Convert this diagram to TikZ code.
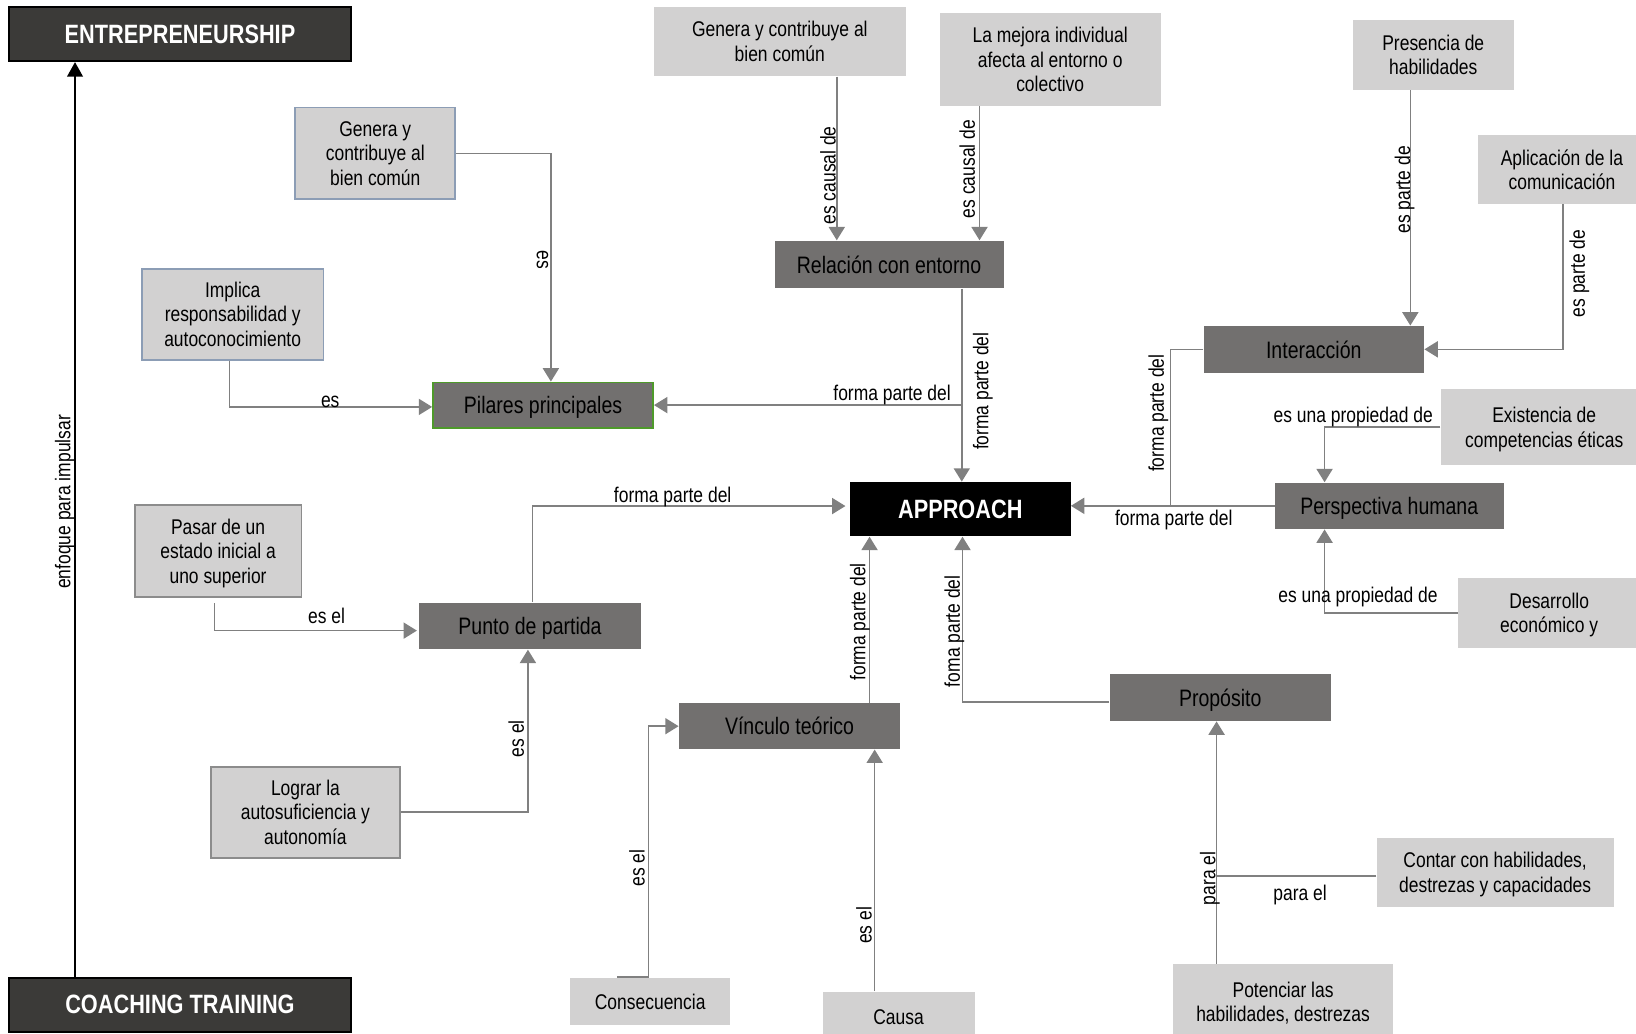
\documentclass[tikz,border=0pt]{standalone}
\usepackage{fontspec}
\setmainfont{Liberation Sans}[FakeStretch=0.82]
\usetikzlibrary{arrows.meta}
\definecolor{lightfill}{HTML}{D2D1D1}
\definecolor{darkfill}{HTML}{72706F}
\definecolor{titlefill}{HTML}{3B3A38}
\definecolor{conngray}{HTML}{808080}
\definecolor{bluebord}{HTML}{8C9DB5}
\definecolor{graybord}{HTML}{8C8C8C}
\definecolor{greenbord}{HTML}{4E9A2A}
\begin{document}
\begin{tikzpicture}[x=0.5pt,y=-0.5pt,
  lbox/.style={fill=lightfill,draw=none,align=center,inner sep=0pt,text depth=0pt,font=\fontsize{10.2}{11.7}\selectfont},
  lboxb/.style={lbox,draw=bluebord,line width=0.9pt},
  lboxg/.style={lbox,draw=graybord,line width=0.9pt},
  dbox/.style={fill=darkfill,draw=none,align=center,inner sep=0pt,text depth=0pt,font=\fontsize{11.4}{13}\selectfont},
  tbox/.style={fill=titlefill,draw=black,line width=1pt,text=white,inner sep=0pt,font=\fontsize{12.7}{14}\selectfont\bfseries},
  conn/.style={draw=conngray,line width=0.75pt,-{Triangle[width=7.7pt,length=6.4pt,fill=conngray]}},
  plain/.style={draw=conngray,line width=0.75pt},
  lab/.style={inner sep=0pt,text depth=0pt,font=\fontsize{10.2}{12}\selectfont},
  vlab/.style={lab,rotate=90},
]
\useasboundingbox (0,0) rectangle (1568,991);
\clip (0,0) rectangle (1568,991);

% title boxes
\node[tbox,minimum width=163.95pt,minimum height=25.75pt] (EN) at (172.5,32.75) {ENTREPRENEURSHIP};
\node[tbox,minimum width=163.5pt,minimum height=26pt] (CT) at (172.5,963) {COACHING TRAINING};

% light boxes
\node[lboxb,minimum width=76.7pt,minimum height=44pt] (GL) at (359.7,147) {Genera y\\contribuye al\\bien común};
\node[lboxb,minimum width=87pt,minimum height=43.6pt] (IM) at (223,301.1) {Implica\\responsabilidad y\\autoconocimiento};
\node[lbox,minimum width=120.6pt,minimum height=33.3pt] (GT) at (747.4,39.7) {Genera y contribuye al\\bien común};
\node[lbox,minimum width=106.05pt,minimum height=44.25pt] (LM) at (1006.55,57.05) {La mejora individual\\afecta al entorno o\\colectivo};
\node[lbox,minimum width=77pt,minimum height=33.5pt] (PH) at (1373.7,52.5) {Presencia de\\habilidades};
\node[lbox,minimum width=80pt,minimum height=33.05pt] (AC) at (1497,162.45) {Aplicación de la\\comunicación};
\node[lbox,minimum width=99pt,minimum height=36.5pt] (EC) at (1480,409.5) {Existencia de\\competencias éticas};
\node[lbox,minimum width=87.2pt,minimum height=33.5pt] (DE) at (1484.8,587.5) {Desarrollo\\económico y};
\node[lboxg,minimum width=80pt,minimum height=44pt] (PA) at (209,528) {Pasar de un\\estado inicial a\\uno superior};
\node[lboxg,minimum width=90.75pt,minimum height=43.6pt] (LO) at (292.75,778.4) {Lograr la\\autosuficiencia y\\autonomía};
\node[lbox,minimum width=113.5pt,minimum height=33.4pt] (CC) at (1433,836.2) {Contar con habilidades,\\destrezas y capacidades};
\node[lbox,minimum width=76.85pt,minimum height=22.75pt] (CO) at (623.15,959.75) {Consecuencia};
\node[lbox,minimum width=72.8pt,minimum height=24.8pt] (CA) at (861.2,975.2) {Causa};
\node[lbox,minimum width=105.75pt,minimum height=36pt] (PO) at (1229.75,960) {Potenciar las\\habilidades, destrezas};

% dark boxes
\node[dbox,draw=greenbord,line width=0.8pt,minimum width=105.5pt,minimum height=21.75pt] (PP) at (520.5,388.25) {Pilares principales};
\node[dbox,minimum width=109.7pt,minimum height=22.8pt] (RE) at (852.1,253.5) {Relación con entorno};
\node[dbox,minimum width=105.65pt,minimum height=22.4pt] (IN) at (1259.15,334.8) {Interacción};
\node[dbox,minimum width=109.5pt,minimum height=22.2pt] (PHu) at (1331.5,484.8) {Perspectiva humana};
\node[dbox,minimum width=106pt,minimum height=22.5pt] (PR) at (1169.5,668.5) {Propósito};
\node[dbox,minimum width=106pt,minimum height=22.35pt] (PD) at (508,599.95) {Punto de partida};
\node[dbox,minimum width=105.9pt,minimum height=22pt] (VT) at (756.7,696) {Vínculo teórico};
\node[fill=black,text=white,inner sep=0pt,minimum width=105.65pt,minimum height=26pt,font=\fontsize{12.7}{14}\selectfont\bfseries] (AP) at (920.35,488) {APPROACH};

% helper coordinates
\coordinate (PAs) at (205.4,578);
\coordinate (J) at (1166,839.6);

% connectors
\draw[line width=1pt,-{Triangle[width=7.5pt,length=7pt]}] (CT.north -| 71.9,0) -- (EN.south -| 71.9,0);
\draw[conn] (GL.east) -| (PP.north -| 528,0);
\draw[conn] (IM.south -| 220,0) |- (PP.west |- 0,390);
\draw[conn] (GT.south -| 802,0) -- (RE.north -| 802,0);
\draw[conn] (LM.south -| 938.8,0) -- (RE.north -| 938.8,0);
\draw[conn] (RE.south -| 921.8,0) -- (AP.north -| 921.8,0);
\draw[conn] (PP.east -| 921.8,0) -- (PP.east);
\draw[conn] (PH.south -| 1351.7,0) -- (IN.north -| 1351.7,0);
\draw[conn] (AC.south -| 1498,0) |- (IN.east);
\draw[plain] (IN.west) -| (PHu.west -| 1122,0);
\draw[conn] (PHu.west) -- (AP.east |- PHu.west);
\draw[conn] (EC.west) -| (PHu.north -| 1269.5,0);
\draw[conn] (DE.west) -| (PHu.south -| 1269.5,0);
\draw[conn] (PR.west |- 0,673) -| (AP.south -| 922.5,0);
\draw[conn] (VT.north -| 833.4,0) -- (AP.south -| 833.4,0);
\draw[conn,shorten >=2pt] (PD.north -| 510.4,0) |- (AP.west |- 0,485);
\draw[conn,shorten >=1pt] (PAs) |- (PD.west |- 0,604.4);
\draw[conn] (LO.east) -| (PD.south -| 506,0);
\draw[conn] (CO.north -| 591.5,0) -- (CO.north -| 621.6,0) |- (VT.west);
\draw[conn] (CA.north -| 838.3,0) -- (VT.south -| 838.3,0);
\draw[conn] (PO.north -| 1166,0) -- (PR.south -| 1166,0);
\draw[plain] (CC.west |- J) -- (J);

% labels
\node[lab,rotate=-90] (l1) at (520,249) {es};
\node[lab] (l2) at (316.5,385) {es};
\node[vlab] (l3) at (793.5,168) {es causal de};
\node[vlab] (l4) at (927,162) {es causal de};
\node[vlab] (l5) at (940,375) {forma parte del};
\node[lab] (l6) at (855,376.8) {forma parte del};
\node[vlab] (l7) at (1344,182) {es parte de};
\node[vlab] (l8) at (1511.5,262) {es parte de};
\node[vlab] (l9) at (1108,396) {forma parte del};
\node[lab] (l10) at (1125,496.7) {forma parte del};
\node[lab] (l11) at (1297,397.7) {es una propiedad de};
\node[lab] (l12) at (1301.5,570) {es una propiedad de};
\node[vlab] (l13) at (912.5,605) {foma parte del};
\node[vlab] (l14) at (822,596) {forma parte del};
\node[lab] (l15) at (644.7,474.5) {forma parte del};
\node[lab] (l16) at (313,590.4) {es el};
\node[vlab] (l17) at (494.6,708) {es el};
\node[vlab] (l18) at (610.5,832) {es el};
\node[vlab] (l19) at (828,887) {es el};
\node[vlab] (l20) at (1157.5,842) {para el};
\node[lab] (l21) at (1246,856) {para el};
\node[vlab] (l22) at (60,481) {enfoque para impulsar};
\end{tikzpicture}
\end{document}
